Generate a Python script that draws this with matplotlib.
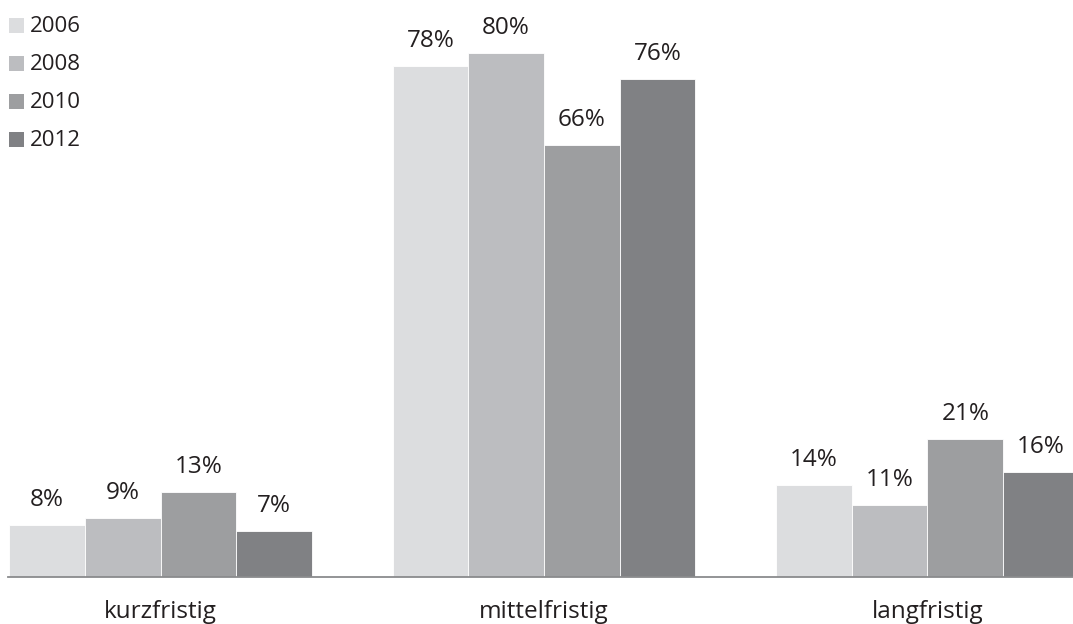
import matplotlib.pyplot as plt
from matplotlib.patches import Rectangle

# data
categories = ["kurzfristig", "mittelfristig", "langfristig"]
years = ["2006", "2008", "2010", "2012"]
v2006 = [8, 78, 14]
v2008 = [9, 80, 11]
v2010 = [13, 66, 21]
v2012 = [7, 76, 16]
series = [v2006, v2008, v2010, v2012]

colors = ["#dcdddf", "#bcbdc0", "#9d9ea0", "#808184"]
text_col = "#231f20"
font = ["Open Sans", "DejaVu Sans"]

W, H = 1073, 624
fig = plt.figure(figsize=(W / 100, H / 100), dpi=100)
ax = fig.add_axes([0, 47 / H, 1, 577 / H])

px_per_unit = 383.5
x0 = -160.5 / px_per_unit
ax.set_xlim(x0, x0 + W / px_per_unit)
ax.set_ylim(0, 577 / 6.55)

bw = 75.7 / px_per_unit
for k, vals in enumerate(series):
    for i, v in enumerate(vals):
        xc = i + (k - 1.5) * bw
        ax.bar(xc, v, width=bw, color=colors[k], edgecolor="white", linewidth=0.6)
        ax.annotate(f"{v}%", (xc, v), xytext=(0, 13.7), textcoords="offset points",
                    ha="center", va="baseline", fontsize=17.5, color=text_col, family=font)

for i, c in enumerate(categories):
    ax.annotate(c, (i, 0), xytext=(0, -29.5), textcoords="offset points",
                ha="center", va="baseline", fontsize=17.5, color=text_col, family=font,
                annotation_clip=False)

for s in ["top", "right", "left"]:
    ax.spines[s].set_visible(False)
ax.spines["bottom"].set_color("#8a8b8d")
ax.spines["bottom"].set_linewidth(1.3)
ax.spines["bottom"].set_bounds(x0 + 8 / px_per_unit, x0 + W / px_per_unit)
ax.set_xticks([])
ax.set_yticks([])
ax.patch.set_visible(False)

# legend drawn by hand
for k, y in enumerate(years):
    top = 18 + 38 * k
    fig.add_artist(Rectangle((9 / W, 1 - (top + 15) / H), 15 / W, 15 / H,
                             transform=fig.transFigure, color=colors[k], lw=0))
    fig.text(30 / W, 1 - (top + 14.5) / H, y, ha="left", va="baseline",
             fontsize=16, color=text_col, family=font)

fig.savefig("out.png", dpi=100)
